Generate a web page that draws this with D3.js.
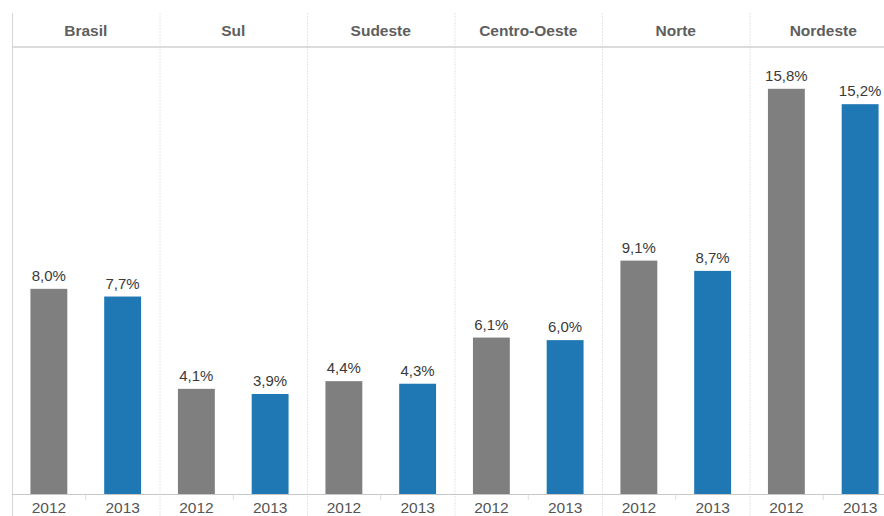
<!DOCTYPE html>
<html>
<head>
<meta charset="utf-8">
<script src="https://cdn.jsdelivr.net/npm/d3@7"></script>
<style>
  body { margin: 0; background: #fff; }
  svg { display: block; font-family: "Liberation Sans", Arial, sans-serif; }
</style>
</head>
<body>
<svg id="chart" width="884" height="516"></svg>
<script>
// ── Data ──
const regions = ["Brasil", "Sul", "Sudeste", "Centro-Oeste", "Norte", "Nordeste"];
const years = ["2012", "2013"];
const values2012 = [8.0, 4.1, 4.4, 6.1, 9.1, 15.8];
const values2013 = [7.7, 3.9, 4.3, 6.0, 8.7, 15.2];
const yearColors = ["#7f7f7f", "#1f77b4"];

const rows = regions.map((r, i) => ({
  region: r,
  vals: [
    { year: years[0], v: values2012[i] },
    { year: years[1], v: values2013[i] }
  ]
}));

// ── Layout ──
const leftX = 12, panelW = 147.5;
const topY = 13, headerBottom = 47, baseY = 494, bottomY = 516;

const svg = d3.select("#chart");

const x0 = d3.scaleBand()
  .domain(regions)
  .range([leftX, leftX + panelW * regions.length]);

const x1 = d3.scaleBand()
  .domain(years)
  .range([0, panelW])
  .paddingInner(0.5)
  .paddingOuter(0.25);

const y = d3.scaleLinear()
  .domain([0, 17.43])
  .range([baseY, headerBottom]);

const fmt = v => d3.format(".1f")(v).replace(".", ",") + "%";

// panel dividers
svg.append("g")
  .selectAll("line")
  .data(regions)
  .join("line")
  .attr("x1", d => x0(d) + 0.5)
  .attr("x2", d => x0(d) + 0.5)
  .attr("y1", topY)
  .attr("y2", bottomY)
  .attr("stroke", (d, i) => i === 0 ? "#d4d4d4" : "#e6e6e6")
  .attr("stroke-dasharray", (d, i) => i === 0 ? null : "2,1");

// header line
svg.append("line")
  .attr("x1", leftX).attr("x2", 884)
  .attr("y1", headerBottom).attr("y2", headerBottom)
  .attr("stroke", "#d0d0d0")
  .attr("stroke-width", 1.5);

// headers
svg.append("g")
  .selectAll("text")
  .data(regions)
  .join("text")
  .attr("x", d => x0(d) + panelW / 2)
  .attr("y", 36)
  .attr("text-anchor", "middle")
  .attr("font-size", 15.5)
  .attr("font-weight", "bold")
  .attr("fill", "#5e5e5e")
  .text(d => d);

// bars
const panels = svg.append("g")
  .selectAll("g")
  .data(rows)
  .join("g")
  .attr("transform", d => `translate(${x0(d.region)},0)`);

panels.selectAll("rect")
  .data(d => d.vals)
  .join("rect")
  .attr("x", d => x1(d.year))
  .attr("width", x1.bandwidth())
  .attr("y", d => y(d.v))
  .attr("height", d => baseY - y(d.v))
  .attr("fill", (d, i) => yearColors[i]);

panels.selectAll("text.val")
  .data(d => d.vals)
  .join("text")
  .attr("class", "val")
  .attr("x", d => x1(d.year) + x1.bandwidth() / 2)
  .attr("y", d => y(d.v) - 8)
  .attr("text-anchor", "middle")
  .attr("font-size", 15)
  .attr("fill", "#3a3a3a")
  .text(d => fmt(d.v));

// year axis per panel
panels.each(function () {
  const ax = d3.select(this).append("g")
    .attr("transform", `translate(0,${baseY})`)
    .call(d3.axisBottom(x1).tickSize(0).tickPadding(8));
  ax.select(".domain").remove();
  ax.selectAll("text")
    .attr("font-size", 15.5)
    .attr("fill", "#555")
    .attr("font-family", "Liberation Sans, Arial, sans-serif");
  d3.select(this).append("line")
    .attr("x1", panelW / 2).attr("x2", panelW / 2)
    .attr("y1", baseY).attr("y2", baseY + 6)
    .attr("stroke", "#ddd");
});

// baseline
svg.append("line")
  .attr("x1", leftX).attr("x2", 884)
  .attr("y1", baseY + 0.5).attr("y2", baseY + 0.5)
  .attr("stroke", "#c8c8c8");
</script>
</body>
</html>
